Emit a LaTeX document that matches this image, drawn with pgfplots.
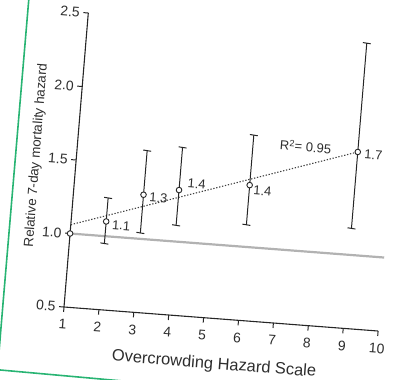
\documentclass[border=0pt]{standalone}
\usepackage{fontspec}
\setmainfont{Liberation Sans}
\usepackage{pgfplots}
\usepackage{pgfplotstable}
\pgfplotsset{compat=1.18}
\definecolor{txt}{RGB}{45,45,45}
\definecolor{refgray}{RGB}{178,178,178}
\definecolor{frame}{RGB}{40,180,115}

\pgfplotstableread{
x y yp ym
2 1.10 0.16 0.15
3 1.30 0.30 0.26
4 1.35 0.29 0.24
6 1.42 0.34 0.27
9 1.70 0.74 0.52
}\hazard

\begin{document}
\begin{tikzpicture}[lab/.style={font=\fontsize{13}{15}\selectfont, text=txt, inner sep=0pt, rotate=-4.4}]
\begin{axis}[
  x={(34.9bp,-2.67bp)}, y={(12.15bp,147bp)},
  xmin=1, xmax=10, ymin=0.5, ymax=2.5,
  axis x line*=bottom, axis y line*=left,
  axis line style={line width=1.1bp, color=black!85},
  tick style={line width=1bp, color=black!85},
  tick align=outside,
  major tick length=5bp,
  xtick={1,...,10}, ytick={0.5,1.0,1.5,2.0,2.5},
  /pgf/number format/assume math mode=true,
  yticklabel style={/pgf/number format/fixed, /pgf/number format/fixed zerofill, /pgf/number format/precision=1},
  every tick label/.append style={font=\fontsize{14}{16}\selectfont, text=txt, rotate=-4.4},
  xticklabel style={yshift=-4bp},
  xlabel={Overcrowding Hazard Scale},
  ylabel={Relative 7-day mortality hazard},
  xlabel style={font=\fontsize{16.5}{19}\selectfont, text=txt, at={(axis cs:5.4,0.5)}, anchor=center, rotate=-4.4, yshift=-46bp},
  ylabel style={font=\fontsize{13.4}{16}\selectfont, text=txt, at={(axis cs:1,1.51)}, anchor=center, rotate=-4.4, yshift=40bp},
  clip=false,
]
\addplot[refgray, line width=2.2bp] coordinates {(1,1) (10,1)};
\addplot[black!75, line width=1.1bp, dash pattern=on 1.3bp off 1.7bp] coordinates {(1,1.06) (9,1.70)};
\addplot[black!85, only marks, mark=none,
  error bars/.cd, y dir=both, y explicit,
  error bar style={line width=1bp, black!85},
  error mark options={rotate=85.6, mark size=4bp, line width=1bp, black!85}]
  table[x=x, y=y, y error plus=yp, y error minus=ym] {\hazard};
\addplot[only marks, mark=*, mark size=2.8bp, mark options={fill=white, draw=black!85, line width=0.9bp}]
  table[x=x, y=y] {\hazard};
\addplot[only marks, mark=*, mark size=2.8bp, mark options={fill=white, draw=black!85, line width=0.9bp}]
  coordinates {(1,1.0)};
\node[lab, anchor=west, xshift=6bp, yshift=-3bp] at (axis cs:2,1.10) {1.1};
\node[lab, anchor=west, xshift=6bp, yshift=-2bp] at (axis cs:3,1.30) {1.3};
\node[lab, anchor=west, xshift=8bp, yshift=7.6bp] at (axis cs:4,1.35) {1.4};
\node[lab, anchor=west, xshift=4bp, yshift=-5bp] at (axis cs:6,1.42) {1.4};
\node[lab, anchor=west, xshift=6.6bp, yshift=-2bp] at (axis cs:9,1.70) {1.7};
\node[lab] at (axis cs:7.5,1.71) {R\textsuperscript{2}= 0.95};
\coordinate (O) at (axis cs:1,0.5);
\end{axis}
\begin{scope}[x=1bp, y=-1bp, shift={(O)}, shift={(-64,-307)}]
\draw[frame, line width=1.6bp] (29,-3) -- (3.3,300) -- (-1,352);
\draw[frame, line width=1.6bp] (-3,369.7) -- (125,381.2);
\pgfresetboundingbox
\path[use as bounding box] (0,0) rectangle (393,380);
\end{scope}
\end{tikzpicture}
\end{document}
